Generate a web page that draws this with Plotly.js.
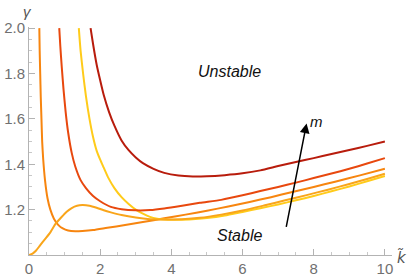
<!DOCTYPE html>
<html>
<head>
<meta charset="utf-8">
<script src="https://cdn.plot.ly/plotly-3.0.1.min.js"></script>
<style>html,body{margin:0;padding:0;background:#fff;}#chart{width:415px;height:279px;}</style>
</head>
<body>
<div id="chart"></div>
<script>
// Curve A (dark red)
const kA = [1.73,1.8,1.9,2.0,2.1,2.25,2.4,2.6,2.8,3.0,3.2,3.5,3.8,4.2,4.6,5.0,5.5,6.0,6.5,7.0,7.5,8.0,8.5,9.0,9.5,10];
const gA = [2.0,1.93,1.84,1.77,1.705,1.63,1.57,1.505,1.462,1.43,1.405,1.38,1.362,1.35,1.346,1.347,1.352,1.36,1.373,1.392,1.41,1.427,1.445,1.463,1.481,1.50];
// Curve B (orange-red)
const kB = [0.85,0.88,0.92,0.97,1.03,1.1,1.2,1.3,1.45,1.6,1.8,2.0,2.3,2.6,3.0,3.4,3.8,4.3,4.8,5.4,6.0,6.5,7.0,7.5,8.0,8.5,9.0,9.5,10];
const gB = [2.0,1.92,1.83,1.73,1.63,1.54,1.45,1.39,1.33,1.295,1.26,1.237,1.212,1.202,1.197,1.198,1.205,1.217,1.23,1.243,1.263,1.282,1.30,1.319,1.339,1.359,1.380,1.403,1.427];
// Curve C (yellow)
const kC = [1.40,1.45,1.52,1.6,1.7,1.8,1.9,2.0,2.1,2.23,2.4,2.6,2.8,3.0,3.2,3.4,3.6,3.8,4.1,4.5,5.0,5.5,6.0,6.5,7.0,7.5,8.0,8.5,9.0,9.5,10];
const gC = [2.0,1.9,1.8,1.7,1.6,1.52,1.46,1.42,1.385,1.34,1.295,1.255,1.225,1.2,1.182,1.168,1.16,1.156,1.155,1.157,1.163,1.174,1.19,1.206,1.223,1.241,1.26,1.281,1.302,1.325,1.348];
// Curve D (orange)
const kD = [0.29,0.30,0.315,0.33,0.35,0.37,0.40,0.45,0.52,0.6,0.7,0.82,0.95,1.1,1.3,1.5,1.8,2.2,2.7,3.2,3.8,4.4,5.0,5.6,6.2,6.8,7.4,8.0,8.6,9.3,10];
const gD = [2.0,1.9,1.8,1.7,1.6,1.5,1.42,1.33,1.25,1.2,1.16,1.133,1.117,1.108,1.105,1.106,1.11,1.12,1.132,1.145,1.162,1.178,1.195,1.214,1.234,1.255,1.278,1.30,1.323,1.351,1.38];
// Curve E (amber)
const kE = [0,0.1,0.2,0.3,0.45,0.6,0.75,0.9,1.05,1.2,1.35,1.5,1.7,1.9,2.1,2.3,2.6,3.0,3.4,3.8,4.3,4.8,5.4,6.0,6.6,7.2,7.8,8.4,9.0,9.5,10];
const gE = [1.0,1.006,1.02,1.04,1.07,1.1,1.138,1.165,1.19,1.207,1.217,1.22,1.217,1.208,1.197,1.188,1.176,1.165,1.158,1.156,1.158,1.164,1.178,1.196,1.218,1.241,1.264,1.288,1.313,1.335,1.358];

const xTickVals = [0,2,4,6,8,10];
const xTickText = ["0","2","4","6","8","10"];
const yTickVals = [1.2,1.4,1.6,1.8,2.0];
const yTickText = ["1.2","1.4","1.6","1.8","2.0"];

function tr(x, y, color) {
  return {x: x, y: y, type: 'scatter', mode: 'lines',
    line: {color: color, width: 2, shape: 'spline', smoothing: 0.6},
    hoverinfo: 'skip', showlegend: false};
}
const data = [
  tr(kD, gD, '#F7850F'),
  tr(kC, gC, '#FFCB1A'),
  tr(kE, gE, '#F9A51A'),
  tr(kB, gB, '#E8480E'),
  tr(kA, gA, '#B81C0C')
];

const tickFont = {family: 'Liberation Sans, Arial, sans-serif', size: 15, color: '#707070'};
const layout = {
  width: 415, height: 279,
  margin: {l: 29, r: 23, t: 27, b: 24},
  paper_bgcolor: '#ffffff', plot_bgcolor: '#ffffff',
  xaxis: {
    range: [0, 10.2], showgrid: false, zeroline: false,
    showline: true, linecolor: '#b3b3b3', linewidth: 1,
    ticks: 'inside', ticklen: 6, tickcolor: '#b3b3b3', tickwidth: 1,
    tickvals: xTickVals, ticktext: xTickText, tickfont: tickFont,
    minor: {dtick: 0.5, ticks: 'inside', ticklen: 3, tickcolor: '#c8c8c8', showgrid: false}
  },
  yaxis: {
    range: [1.0, 2.005], showgrid: false, zeroline: false,
    showline: true, linecolor: '#b3b3b3', linewidth: 1,
    ticks: 'inside', ticklen: 6, tickcolor: '#b3b3b3', tickwidth: 1,
    tickvals: yTickVals, ticktext: yTickText, tickfont: tickFont,
    minor: {dtick: 0.05, ticks: 'inside', ticklen: 3, tickcolor: '#c8c8c8', showgrid: false}
  },
  annotations: [
    {xref: 'paper', yref: 'paper', x: -0.005, y: 1.07, text: 'γ', showarrow: false,
     font: {family: 'Liberation Sans, Arial, sans-serif', size: 15, color: '#555555', style: 'italic'}, xanchor: 'center', yanchor: 'middle'},
    {xref: 'paper', yref: 'paper', x: 1.028, y: -0.01, text: 'k\u0303', showarrow: false,
     font: {family: 'DejaVu Sans, sans-serif', size: 15, color: '#555555', style: 'italic'}, xanchor: 'center', yanchor: 'middle'},
    {xref: 'x', yref: 'y', x: 5.63, y: 1.81, text: 'Unstable', showarrow: false,
     font: {family: 'Liberation Sans, Arial, sans-serif', size: 16, color: '#111111', style: 'italic'}},
    {xref: 'x', yref: 'y', x: 5.91, y: 1.088, text: 'Stable', showarrow: false,
     font: {family: 'Liberation Sans, Arial, sans-serif', size: 16, color: '#111111', style: 'italic'}},
    {xref: 'x', yref: 'y', x: 8.08, y: 1.59, text: 'm', showarrow: false,
     font: {family: 'Liberation Sans, Arial, sans-serif', size: 15, color: '#111111', style: 'italic'}},
    {xref: 'x', yref: 'y', x: 7.80, y: 1.58, axref: 'x', ayref: 'y', ax: 7.22, ay: 1.117,
     text: '', showarrow: true, arrowhead: 2, arrowsize: 1.3, arrowwidth: 1.5, arrowcolor: '#000000', standoff: 0}
  ]
};
Plotly.newPlot('chart', data, layout, {displayModeBar: false, staticPlot: true});
</script>
</body>
</html>
